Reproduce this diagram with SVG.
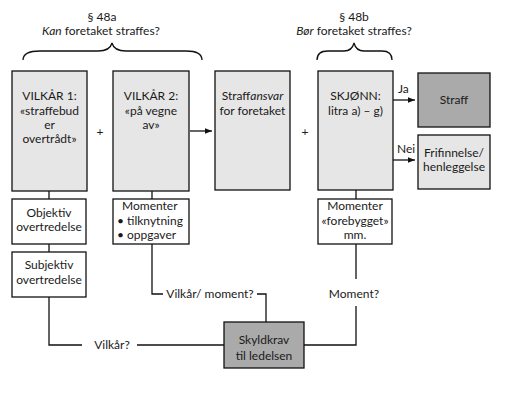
<svg xmlns="http://www.w3.org/2000/svg" width="505" height="415" viewBox="0 0 505 415">
<defs>
<style>
text{font-family:Lato,"Open Sans","DejaVu Sans",sans-serif;font-size:12px;fill:#1a1a1a}
.c{text-anchor:middle}
.box{fill:#e6e6e6;stroke:#111;stroke-width:1.3}
.dark{fill:#aaaaaa;stroke:#111;stroke-width:1.3}
.white{fill:#fff;stroke:#111;stroke-width:1.3}
.ln{fill:none;stroke:#111;stroke-width:1.3}
</style>
<marker id="ah" viewBox="0 0 10 10" refX="10" refY="5" markerWidth="7" markerHeight="7" orient="auto" markerUnits="userSpaceOnUse"><path d="M0,1 L10,5 L0,9 z" fill="#111"/></marker>
</defs>
<rect width="505" height="415" fill="#fff"/>

<g id="headers">
<text class="c" x="102" y="21">§ 48a</text>
<text class="c" x="101" y="35"><tspan font-style="italic">Kan</tspan> foretaket straffes?</text>
<text class="c" x="354" y="21">§ 48b</text>
<text class="c" x="354" y="35"><tspan font-style="italic">Bør</tspan> foretaket straffes?</text>
<path class="ln" d="M23,60 Q23,51 40,51 L98,51 Q110,51 112,43 Q114,51 126,51 L186,51 Q202,51 202,60"/>
<path class="ln" d="M317,60 Q317,51 328,51 L344,51 Q352,51 354,43 Q356,51 364,51 L382,51 Q392,51 392,60"/>
</g>

<g id="connectors">
<line class="ln" x1="49" y1="191" x2="49" y2="199"/>
<line class="ln" x1="49" y1="244" x2="49" y2="252"/>
<line class="ln" x1="152" y1="191" x2="152" y2="199"/>
<line class="ln" x1="356" y1="190" x2="356" y2="199"/>
<line class="ln" x1="190" y1="131" x2="212" y2="131" marker-end="url(#ah)"/>
<line class="ln" x1="393" y1="100" x2="415" y2="100" marker-end="url(#ah)"/>
<line class="ln" x1="393" y1="160" x2="415" y2="160" marker-end="url(#ah)"/>
<polyline class="ln" points="49,297 49,345 82,345"/>
<line class="ln" x1="137" y1="345" x2="224" y2="345"/>
<polyline class="ln" points="152,244 152,294 163,294"/>
<polyline class="ln" points="257,294 266,294 266,322"/>
<line class="ln" x1="356" y1="244" x2="356" y2="279"/>
<polyline class="ln" points="356,306 356,345 304,345"/>
<text x="398" y="93">Ja</text>
<text x="397" y="153">Nei</text>
<text x="112" y="349" class="c">Vilkår?</text>
<text x="210" y="298" class="c">Vilkår/ moment?</text>
<text x="354" y="298" class="c">Moment?</text>
</g>

<g id="vilkar1">
<rect class="box" x="12" y="71" width="75" height="120"/>
<text class="c" x="49.5" y="100">VILKÅR 1:</text>
<text class="c" x="49.5" y="115">«straffebud</text>
<text class="c" x="49.5" y="129">er</text>
<text class="c" x="49.5" y="143">overtrådt»</text>
</g>
<g id="plus1"><text class="c" x="100" y="136">+</text></g>
<g id="plus2"><text class="c" x="305" y="136">+</text></g>
<g id="vilkar2">
<rect class="box" x="113" y="71" width="76" height="120"/>
<text class="c" x="151" y="100">VILKÅR 2:</text>
<text class="c" x="151" y="115">«på vegne</text>
<text class="c" x="151" y="129">av»</text>
</g>
<g id="straffansvar">
<rect class="box" x="215" y="71" width="75" height="119"/>
<text class="c" x="252.5" y="100">Straff<tspan font-style="italic">ansvar</tspan></text>
<text class="c" x="252.5" y="115">for foretaket</text>
</g>
<g id="skjonn">
<rect class="box" x="318" y="71" width="75" height="119"/>
<text class="c" x="355.5" y="100">SKJØNN:</text>
<text class="c" x="355.5" y="115">litra a) – g)</text>
</g>
<g id="straff">
<rect class="dark" x="418" y="73" width="72" height="54"/>
<text class="c" x="454" y="104">Straff</text>
</g>
<g id="frifinnelse">
<rect class="box" x="418" y="135" width="72" height="54"/>
<text class="c" x="454" y="157">Frifinnelse/</text>
<text class="c" x="454" y="171">henleggelse</text>
</g>
<g id="objektiv">
<rect class="white" x="12" y="199" width="74" height="45"/>
<text class="c" x="49" y="217">Objektiv</text>
<text class="c" x="49" y="231">overtredelse</text>
</g>
<g id="subjektiv">
<rect class="white" x="12" y="252" width="74" height="45"/>
<text class="c" x="49" y="269">Subjektiv</text>
<text class="c" x="49" y="284">overtredelse</text>
</g>
<g id="momenter1">
<rect class="white" x="113" y="199" width="76" height="45"/>
<text x="122" y="210">Momenter</text>
<text x="117" y="225">• tilknytning</text>
<text x="117" y="239">• oppgaver</text>
</g>
<g id="momenter2">
<rect class="white" x="318" y="199" width="74" height="45"/>
<text class="c" x="355" y="210">Momenter</text>
<text class="c" x="355" y="225">«forebygget»</text>
<text class="c" x="355" y="239">mm.</text>
</g>
<g id="skyldkrav">
<rect class="dark" x="224" y="322" width="80" height="46"/>
<text class="c" x="264" y="344">Skyldkrav</text>
<text class="c" x="264" y="360">til ledelsen</text>
</g>
</svg>
